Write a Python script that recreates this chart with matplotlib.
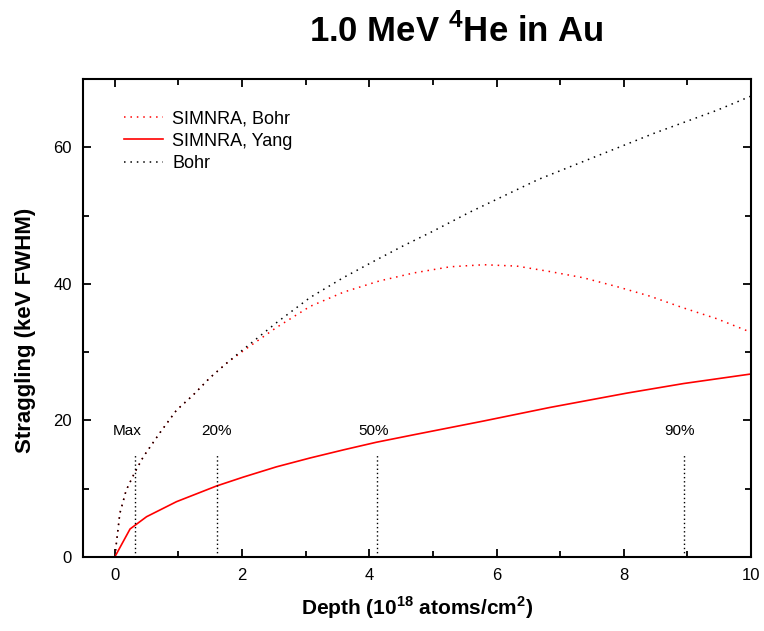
import matplotlib
matplotlib.use("Agg")
import matplotlib.pyplot as plt
from matplotlib.ticker import MultipleLocator

plt.rcParams['font.family'] = ['Liberation Sans', 'DejaVu Sans']
plt.rcParams['mathtext.fontset'] = 'custom'
plt.rcParams['mathtext.rm'] = 'Liberation Sans'
plt.rcParams['mathtext.bf'] = 'Liberation Sans:bold'

# Bohr straggling (black dotted)
bohr_x = [0, 0.08, 0.18, 0.31, 0.45, 0.71, 0.97, 1.23, 1.49, 1.76, 2.02, 2.54,
          3.07, 3.59, 4.11, 4.52, 5.0, 5.58, 6.66, 7.52, 8.49, 9.46, 10.0]
bohr_y = [0, 6.4, 9.8, 12.3, 14.7, 18.2, 21.5, 23.7, 26.2, 28.4, 30.4, 34.3,
          38.0, 40.9, 43.5, 45.5, 47.7, 50.5, 55.3, 58.5, 62.1, 65.4, 67.5]

# SIMNRA with Bohr straggling (red dotted)
sim_bohr_x = [0, 0.08, 0.18, 0.31, 0.45, 0.71, 0.97, 1.23, 1.49, 1.76, 2.02, 2.54,
              3.07, 3.6, 4.15, 4.7, 5.27, 5.8, 6.32, 6.84, 7.36, 7.89, 8.41, 8.93,
              9.46, 10.0]
sim_bohr_y = [0, 6.4, 9.8, 12.3, 14.7, 18.2, 21.5, 23.7, 26.2, 28.4, 30.2, 33.6,
              36.7, 38.8, 40.4, 41.6, 42.5, 42.8, 42.6, 41.8, 40.9, 39.6, 38.2, 36.5,
              34.9, 32.9]

# SIMNRA with Yang straggling (red solid)
yang_x = [0, 0.24, 0.5, 0.97, 1.6, 2.02, 2.54, 3.07, 3.6, 4.11, 4.7, 5.79, 6.84,
          8.05, 8.94, 10.0]
yang_y = [0, 4.1, 5.9, 8.1, 10.4, 11.7, 13.2, 14.5, 15.7, 16.8, 17.9, 19.9, 21.9,
          24.0, 25.4, 26.8]

# depth markers
mark_x = [0.32, 1.60, 4.12, 8.94]
mark_top = 15
mark_labels = ['Max', '20%', '50%', '90%']
label_x = [0.19, 1.60, 4.07, 8.88]
label_y = 18.5

fig = plt.figure(figsize=(7.64, 6.31), dpi=100)
ax = fig.add_axes([0.1086, 0.1173, 0.8744, 0.7575])

ax.plot(sim_bohr_x, sim_bohr_y, color='red', lw=1.1, linestyle=(0, (1, 3.2)),
        label='SIMNRA, Bohr')
ax.plot(yang_x, yang_y, color='red', lw=1.2, label='SIMNRA, Yang')
ax.plot(bohr_x, bohr_y, color='black', lw=1.1, linestyle=(0, (1, 3.2)),
        label='Bohr')

for mx, lab, lx in zip(mark_x, mark_labels, label_x):
    ax.plot([mx, mx], [0, mark_top], color='black', lw=1.0, linestyle=(0, (1, 2)))
    ax.text(lx, label_y, lab, fontsize=11, ha='center', va='center')

ax.set_xlim(-0.5, 10)
ax.set_ylim(0, 70)
ax.xaxis.set_major_locator(MultipleLocator(2))
ax.xaxis.set_minor_locator(MultipleLocator(1))
ax.yaxis.set_major_locator(MultipleLocator(20))
ax.yaxis.set_minor_locator(MultipleLocator(10))
ax.tick_params(which='both', direction='in', top=True, right=True, width=1.3,
               labelsize=12)
ax.tick_params(which='major', length=6, pad=8)
ax.tick_params(which='minor', length=4)
for s in ax.spines.values():
    s.set_linewidth(1.5)

ax.set_xlabel(r'Depth (10$^{\mathbf{18}}$ atoms/cm$^{\mathbf{2}}$)', fontsize=15,
              fontweight='bold', labelpad=8)
ax.set_ylabel('Straggling (keV FWHM)', fontsize=16, fontweight='bold')
ax.yaxis.set_label_coords(-0.070, 0.475)

fig.text(0.597, 0.950, r'1.0 MeV $^{\mathbf{4}}$He in Au', fontsize=25,
         fontweight='bold', ha='center', va='center')

ax.legend(loc='upper left', frameon=False, fontsize=13, handlelength=2.2,
          handletextpad=0.5, labelspacing=0.3, borderaxespad=0.0,
          bbox_to_anchor=(0.05, 0.95))

fig.savefig('out.png', dpi=100)
